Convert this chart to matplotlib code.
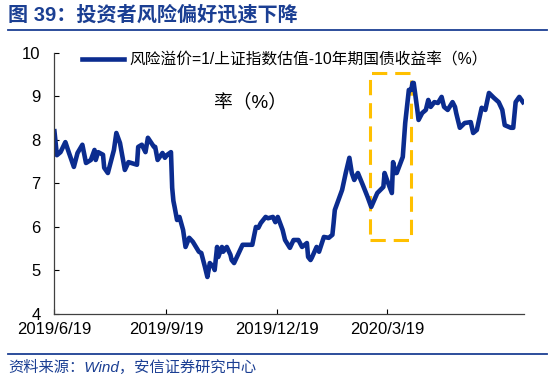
import matplotlib
matplotlib.use("Agg")
import matplotlib.pyplot as plt
import matplotlib.dates as mdates
from matplotlib.patches import Rectangle
from matplotlib.lines import Line2D
import pandas as pd

plt.rcParams['font.family'] = ['Liberation Sans', 'Noto Sans CJK SC', 'DejaVu Sans']

# risk premium
dates = [
    "2019-06-19", "2019-06-21", "2019-06-24", "2019-06-28", "2019-07-01", "2019-07-05",
    "2019-07-08", "2019-07-12", "2019-07-15", "2019-07-19", "2019-07-22", "2019-07-23",
    "2019-07-25", "2019-07-29", "2019-07-30", "2019-08-02", "2019-08-07", "2019-08-09",
    "2019-08-12", "2019-08-16", "2019-08-19", "2019-08-26", "2019-08-27", "2019-08-30",
    "2019-09-02", "2019-09-04", "2019-09-09", "2019-09-10", "2019-09-12", "2019-09-16",
    "2019-09-18", "2019-09-20", "2019-09-23", "2019-09-24", "2019-09-25", "2019-09-26",
    "2019-09-28", "2019-09-30", "2019-10-03", "2019-10-05", "2019-10-08", "2019-10-11",
    "2019-10-16", "2019-10-18", "2019-10-21", "2019-10-23", "2019-10-25", "2019-10-28",
    "2019-10-29", "2019-10-31", "2019-11-01", "2019-11-04", "2019-11-05", "2019-11-08",
    "2019-11-11", "2019-11-12", "2019-11-14", "2019-11-21", "2019-11-26", "2019-11-29",
    "2019-12-02", "2019-12-04", "2019-12-06", "2019-12-10", "2019-12-12", "2019-12-16",
    "2019-12-18", "2019-12-20", "2019-12-24", "2019-12-26", "2019-12-30", "2020-01-02",
    "2020-01-06", "2020-01-09", "2020-01-13", "2020-01-14", "2020-01-16", "2020-01-17",
    "2020-01-21", "2020-01-23", "2020-01-27", "2020-01-31", "2020-02-03", "2020-02-04",
    "2020-02-05", "2020-02-11", "2020-02-14", "2020-02-17", "2020-02-19", "2020-02-21",
    "2020-02-24", "2020-02-28", "2020-03-03", "2020-03-06", "2020-03-11", "2020-03-16",
    "2020-03-17", "2020-03-19", "2020-03-23", "2020-03-24", "2020-03-26", "2020-03-27",
    "2020-04-01", "2020-04-03", "2020-04-06", "2020-04-08", "2020-04-09", "2020-04-10",
    "2020-04-13", "2020-04-14", "2020-04-17", "2020-04-20", "2020-04-22", "2020-04-24",
    "2020-04-27", "2020-04-30", "2020-05-03", "2020-05-05", "2020-05-08", "2020-05-12",
    "2020-05-14", "2020-05-15", "2020-05-18", "2020-05-22", "2020-05-27", "2020-05-29",
    "2020-06-01", "2020-06-05", "2020-06-08", "2020-06-11", "2020-06-15", "2020-06-19",
    "2020-06-22", "2020-06-24", "2020-06-29", "2020-07-01", "2020-07-03", "2020-07-06",
    "2020-07-09",
]
premium = [
    8.20, 7.65, 7.72, 7.95, 7.70, 7.38,
    7.70, 7.89, 7.47, 7.54, 7.77, 7.54,
    7.72, 7.66, 7.36, 7.24, 7.77, 8.16,
    7.93, 7.31, 7.49, 7.43, 7.84, 7.89,
    7.72, 8.05, 7.84, 7.84, 7.54, 7.70,
    7.59, 7.66, 7.72, 6.90, 6.60, 6.46,
    6.16, 6.23, 5.93, 5.54, 5.75, 5.66,
    5.43, 5.40, 5.08, 4.85, 5.17, 5.08,
    5.01, 5.54, 5.31, 5.54, 5.43, 5.54,
    5.36, 5.24, 5.17, 5.59, 5.59, 5.59,
    6.00, 5.98, 6.09, 6.23, 6.20, 6.23,
    6.11, 6.23, 5.93, 5.70, 5.52, 5.70,
    5.70, 5.54, 5.63, 5.31, 5.24, 5.29,
    5.54, 5.43, 5.77, 5.75, 5.82, 6.09,
    6.39, 6.85, 7.24, 7.59, 7.24, 7.08,
    7.24, 6.97, 6.69, 6.46, 6.78, 6.92,
    7.24, 7.08, 6.78, 7.49, 7.24, 7.24,
    7.61, 8.39, 9.15, 9.15, 9.31, 9.31,
    8.69, 8.46, 8.62, 8.69, 8.92, 8.76,
    8.87, 8.85, 8.99, 8.76, 8.69, 8.87,
    8.76, 8.62, 8.28, 8.39, 8.41, 8.16,
    8.23, 8.74, 8.69, 9.08, 8.97, 8.87,
    8.69, 8.34, 8.28, 8.28, 8.87, 8.99,
    8.87,
]
tick_dates = ["2019-06-19", "2019-09-19", "2019-12-19", "2020-03-19"]
tick_labels = ["2019/6/19", "2019/9/19", "2019/12/19", "2020/3/19"]
legend_label = "风险溢价=1/上证指数估值-10年期国债收益率（%）"

blue = "#0B2C8F"
title_blue = "#1B3F93"
orange = "#FFC000"

x = pd.to_datetime(dates)

fig = plt.figure(figsize=(5.5, 3.81), dpi=100)
ax = fig.add_axes([0.099, 0.176, 0.854, 0.685])

ax.plot(x, premium, color=blue, lw=3.3, solid_joinstyle='round')

ax.set_xlim(pd.Timestamp("2019-06-19"), pd.Timestamp("2020-07-10"))
ax.set_ylim(4, 10)
ax.set_yticks(range(4, 11))
ax.set_xticks(pd.to_datetime(tick_dates))
ax.set_xticklabels(tick_labels)
ax.tick_params(direction='in', length=3.5, labelsize=12, colors='black')
ax.tick_params(axis='x', pad=6)
ax.tick_params(axis='y', pad=10)
for s in ['top', 'right']:
    ax.spines[s].set_visible(False)
for s in ['left', 'bottom']:
    ax.spines[s].set_color('#404040')
    ax.spines[s].set_linewidth(0.9)

# highlight box around the March rebound
x0 = mdates.date2num(pd.Timestamp("2020-03-05"))
x1 = mdates.date2num(pd.Timestamp("2020-04-08"))
ax.add_patch(Rectangle((x0, 5.70), x1 - x0, 9.54 - 5.70, fill=False,
                       edgecolor=orange, lw=2.2, linestyle=(0, (5, 2.6)),
                       joinstyle='round', zorder=1))

handle = Line2D([], [], color=blue, lw=3.3)
ax.legend([handle], [legend_label], loc='center left', bbox_to_anchor=(0.045, 0.973),
          frameon=False, fontsize=11.3, handlelength=2.7, handletextpad=0.3,
          borderaxespad=0)
ax.text(0.418, 0.81, "率（%）", transform=ax.transAxes, fontsize=13.5,
        ha='center', va='center')

# title and source
fig.text(0.015, 0.962, "图 39：投资者风险偏好迅速下降", fontsize=14.5, fontweight='bold',
         color=title_blue, ha='left', va='center')
fig.add_artist(Line2D([0.015, 0.995], [0.921, 0.921], color=title_blue, lw=1.3))
fig.add_artist(Line2D([0.015, 0.995], [0.071, 0.071], color=title_blue, lw=1.3))
fig.text(0.015, 0.036, "资料来源：Wind，安信证券研究中心", fontsize=11, style='italic',
         color=title_blue, ha='left', va='center')

fig.savefig("out.png", dpi=100)
